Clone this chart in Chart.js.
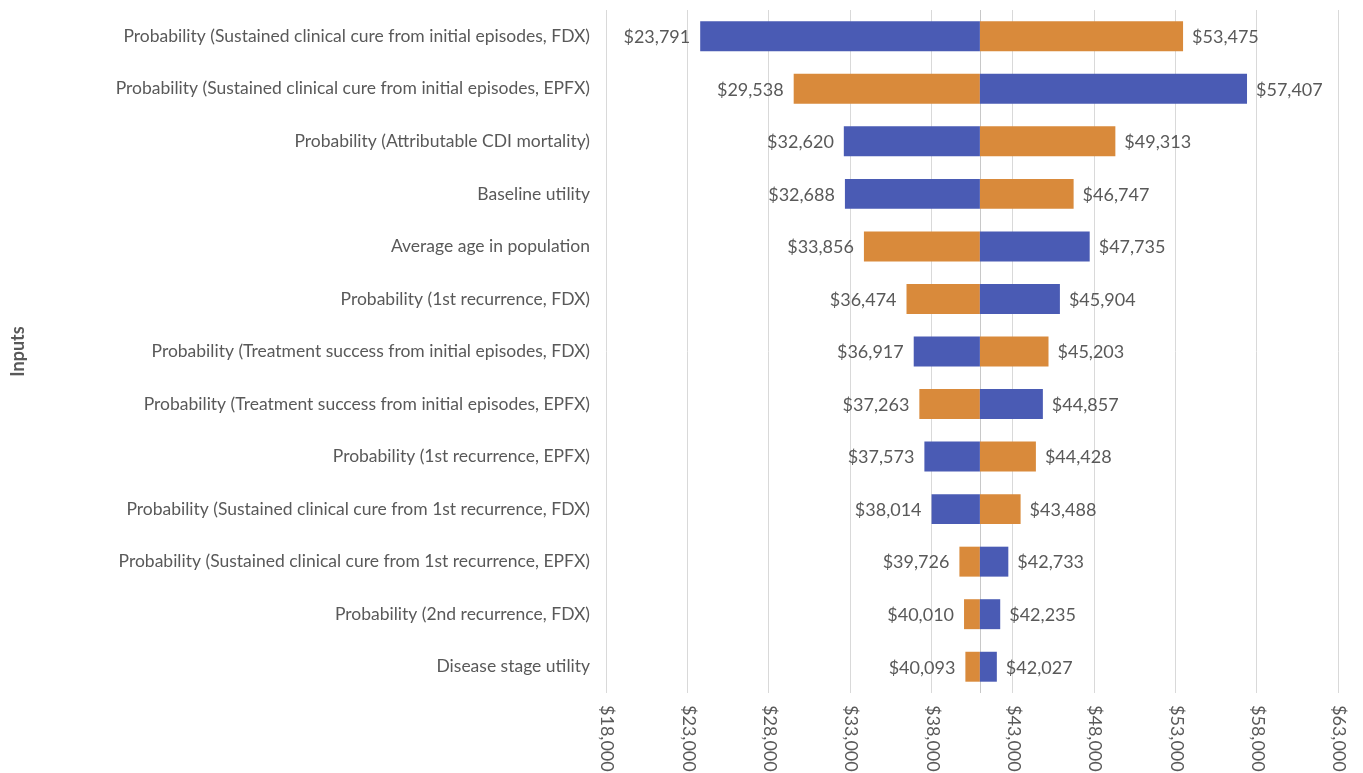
<!DOCTYPE html>
<html>
<head>
<meta charset="utf-8">
<script src="https://cdn.jsdelivr.net/npm/chart.js@4.4.1/dist/chart.umd.min.js"></script>
<style>
  html, body { margin: 0; padding: 0; background: #ffffff; }
  #wrap { width: 1363px; height: 773px; position: relative; }
</style>
</head>
<body>
<div id="wrap"><canvas id="tornado"></canvas></div>
<script>
// One-way sensitivity analysis: ICER range for each input
const inputs = [
  'Probability (Sustained clinical cure from initial episodes, FDX)',
  'Probability (Sustained clinical cure from initial episodes, EPFX)',
  'Probability (Attributable CDI mortality)',
  'Baseline utility',
  'Average age in population',
  'Probability (1st recurrence, FDX)',
  'Probability (Treatment success from initial episodes, FDX)',
  'Probability (Treatment success from initial episodes, EPFX)',
  'Probability (1st recurrence, EPFX)',
  'Probability (Sustained clinical cure from 1st recurrence, FDX)',
  'Probability (Sustained clinical cure from 1st recurrence, EPFX)',
  'Probability (2nd recurrence, FDX)',
  'Disease stage utility'
];
const baseCase = 40985;
const blueValues   = [23791, 57407, 32620, 32688, 47735, 45904, 36917, 44857, 37573, 38014, 42733, 42235, 42027];
const orangeValues = [53475, 29538, 49313, 46747, 33856, 36474, 45203, 37263, 44428, 43488, 39726, 40010, 40093];
const xTickValues  = [18000, 23000, 28000, 33000, 38000, 43000, 48000, 53000, 58000, 63000];

const BLUE = '#4a5bb4';
const ORANGE = '#d98a3b';
const TEXT = '#595959';
const GRID = '#d9d9d9';
const FONT = 'Lato, "Open Sans", sans-serif';

const money = v => '$' + Math.round(v).toLocaleString('en-US');

// Value labels beside each bar, a base-case axis line and clockwise x tick labels
const tornadoDecor = {
  id: 'tornadoDecor',
  beforeDatasetsDraw(chart) {
    const { ctx, chartArea, scales } = chart;
    const x = Math.round(scales.x.getPixelForValue(baseCase)) + 0.5;
    ctx.save();
    ctx.strokeStyle = '#c8c8c8';
    ctx.lineWidth = 1;
    ctx.beginPath();
    ctx.moveTo(x, chartArea.top);
    ctx.lineTo(x, chartArea.bottom);
    ctx.stroke();
    ctx.restore();
  },
  afterDatasetsDraw(chart) {
    const { ctx, scales, chartArea } = chart;
    ctx.save();
    ctx.fillStyle = TEXT;
    ctx.font = '18px ' + FONT;
    ctx.textBaseline = 'middle';
    chart.data.datasets.forEach((ds, di) => {
      const meta = chart.getDatasetMeta(di);
      meta.data.forEach((bar, i) => {
        const v = ds.data[i][1];
        const end = scales.x.getPixelForValue(v);
        if (v < baseCase) {
          ctx.textAlign = 'right';
          ctx.fillText(money(v), end - 10, bar.y + 1);
        } else {
          ctx.textAlign = 'left';
          ctx.fillText(money(v), end + 9, bar.y + 1);
        }
      });
    });
    // x tick labels, reading top to bottom
    ctx.font = '18px ' + FONT;
    ctx.textAlign = 'left';
    ctx.textBaseline = 'middle';
    xTickValues.forEach(t => {
      const px = scales.x.getPixelForValue(t);
      ctx.save();
      ctx.translate(px + 1, chartArea.bottom + 12);
      ctx.rotate(Math.PI / 2);
      ctx.fillText(money(t), 0, 0);
      ctx.restore();
    });
    ctx.restore();
  }
};

new Chart(document.getElementById('tornado'), {
  type: 'bar',
  data: {
    labels: inputs,
    datasets: [
      {
        label: 'Blue',
        data: blueValues.map(v => [baseCase, v]),
        backgroundColor: BLUE,
        borderWidth: 0
      },
      {
        label: 'Orange',
        data: orangeValues.map(v => [baseCase, v]),
        backgroundColor: ORANGE,
        borderWidth: 0
      }
    ]
  },
  options: {
    indexAxis: 'y',
    responsive: true,
    maintainAspectRatio: false,
    animation: false,
    grouped: false,
    barPercentage: 1,
    categoryPercentage: 0.57,
    layout: { padding: { top: 10, right: 25, bottom: 0, left: 0 } },
    plugins: {
      legend: { display: false },
      tooltip: { enabled: false }
    },
    scales: {
      x: {
        type: 'linear',
        min: xTickValues[0],
        max: xTickValues[xTickValues.length - 1],
        afterBuildTicks(scale) {
          scale.ticks = xTickValues.map(v => ({ value: v }));
        },
        afterFit(scale) {
          scale.height = 80;
          scale.paddingLeft = 0;
          scale.paddingRight = 0;
        },
        border: { display: false },
        grid: {
          color: GRID,
          lineWidth: 1,
          drawTicks: false
        },
        ticks: { display: false }
      },
      y: {
        afterFit(scale) {
          scale.width = 606;
          scale.paddingTop = 0;
          scale.paddingBottom = 0;
        },
        border: { display: false },
        grid: { display: false, drawTicks: false },
        ticks: {
          color: TEXT,
          padding: 16,
          font: { family: FONT, size: 17.5 }
        },
        title: {
          display: true,
          text: 'Inputs',
          color: TEXT,
          font: { family: FONT, size: 18, weight: 'bold' },
          padding: { top: 7, bottom: 0 }
        }
      }
    }
  },
  plugins: [tornadoDecor]
});
</script>
</body>
</html>
